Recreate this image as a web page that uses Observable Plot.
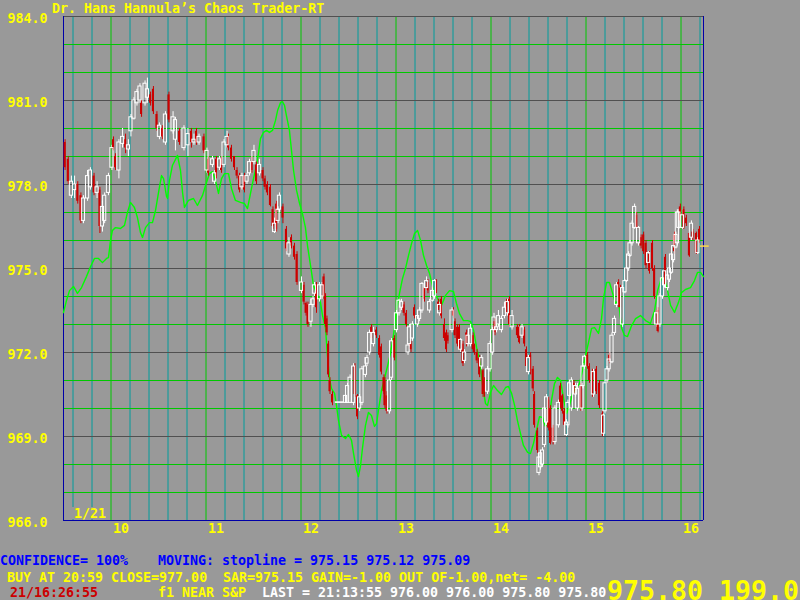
<!DOCTYPE html>
<html>
<head>
<meta charset="utf-8">
<script src="https://cdn.jsdelivr.net/npm/d3@7"></script>
<script src="https://cdn.jsdelivr.net/npm/@observablehq/plot@0.6"></script>
<style>
html,body{margin:0;padding:0;}
body{width:800px;height:600px;background:#999999;position:relative;overflow:hidden;}
#chart{position:absolute;left:0;top:0;}
#overlay{position:absolute;left:0;top:0;}
#overlay text{font-family:"DejaVu Sans Mono",monospace;font-weight:bold;font-size:13.3px;}
</style>
</head>
<body>
<div id="chart"></div>
<svg id="overlay" width="800" height="600">
  <text x="52" y="13" fill="#ffff00">Dr. Hans Hannula’s Chaos Trader-RT</text>
  <rect x="72" y="507" width="34" height="12" fill="#999999"></rect>
  <text x="74" y="518" fill="#ffff00">1/21</text>
  <text x="0" y="565" fill="#0000ff">CONFIDENCE= 100%</text>
  <text x="158" y="565" fill="#0000ff">MOVING: stopline = 975.15 975.12 975.09</text>
  <text x="7" y="582" fill="#ffff00">BUY AT 20:59 CLOSE=977.00</text>
  <text x="223" y="582" fill="#ffff00">SAR=975.15 GAIN=-1.00 OUT OF-1.00,net= -4.00</text>
  <text x="10" y="597" fill="#cc0000">21/16:26:55</text>
  <text x="158" y="597" fill="#ffff00">f1 NEAR S&amp;P</text>
  <text x="262" y="597" fill="#ffffff">LAST = 21:13:55 976.00 976.00 975.80 975.80</text>
  <text x="607" y="600" fill="#ffff00" style="font-size:26.6px">975.80 199.0</text>
</svg>
<script>
// candles: [minutes since 9:30, open, high, low, close]
const candles = [
[1,979.5,979.6,978.5,978.6],[3,978.9,979.0,978.0,978.1],[5,977.6,978.3,977.5,978.1],[7,977.8,978.3,977.5,978.0],
[9,978.0,978.1,977.3,977.4],[11,977.6,977.7,976.6,976.7],[12.6,976.7,977.6,976.6,977.5],[15.2,977.5,978.5,977.4,978.3],
[17,977.9,978.6,977.8,978.5],[19.3,978.3,978.4,977.6,977.7],[21.2,977.7,978.1,977.5,977.9],[23,977.8,977.9,976.25,976.5],
[24.6,976.5,977.4,976.3,977.2],[26,976.7,977.7,976.6,977.6],[28.4,977.7,978.4,977.6,978.3],[30.6,978.6,979.4,978.5,979.3],
[31.6,979.6,979.7,979.2,979.25],[32.8,979.0,979.1,978.5,978.6],[35,978.5,979.6,978.2,979.5],[37.3,979.45,980.0,979.3,979.7],
[39.2,979.6,979.8,979.1,979.3],[41,979.25,979.6,979.0,979.4],[42.6,979.9,980.5,979.7,980.4],[44.5,980.35,981.1,980.3,981.0],
[46.4,980.9,981.4,980.8,981.3],[48.3,981.0,981.6,980.9,981.5],[49.3,980.9,981.0,980.4,980.5],[51.5,980.9,981.7,980.8,981.6],
[53,981.1,981.8,980.9,981.4],[55,981.2,981.3,980.8,980.9],[56.8,981.4,981.5,980.5,980.6],[59,980.5,980.6,979.9,980.0],
[60.6,979.7,980.2,979.6,980.1],[62.5,980.0,980.1,979.6,979.7],[64.4,979.5,980.6,979.4,980.5],[66.6,981.2,981.3,980.2,980.3],
[69.2,979.9,980.6,979.8,980.4],[70.7,979.6,980.4,979.2,980.3],[73.3,979.9,980.0,979.4,979.5],[76.1,979.3,980.1,979.2,980.0],
[78.6,979.4,980.0,979.0,979.8],[80.8,979.9,980.0,979.3,979.5],[82.4,979.5,979.8,979.4,979.6],[84,979.9,980.0,979.4,979.5],
[85.6,979.5,979.8,979.4,979.7],[88.7,979.7,979.8,979.1,979.2],[90.6,978.5,979.3,978.4,979.2],[91.6,978.9,979.0,978.3,978.4],
[94.1,978.7,979.0,978.6,978.9],[95.4,978.1,978.5,978.0,978.4],[96.6,978.9,979.0,978.2,978.3],[98.5,978.6,979.0,978.5,978.9],
[99.8,978.9,979.0,978.4,978.5],[101.4,978.7,979.6,978.6,979.5],[103.3,979.4,979.9,979.3,979.7],[104.2,979.7,979.8,979.2,979.3],
[106.1,979.3,979.4,978.8,978.9],[108,979.0,979.0,978.5,978.6],[109.6,978.5,978.6,978.2,978.3],[111.2,978.3,978.4,977.7,977.8],
[112.7,977.9,978.4,977.8,978.3],[114.3,978.3,978.4,977.7,977.8],[115.9,978.1,978.4,978.0,978.3],[117.5,978.4,978.9,978.3,978.8],
[119,978.8,979.0,978.4,978.5],[120.3,978.8,979.4,978.7,979.2],[121.9,978.7,978.8,978.0,978.1],[123.8,978.4,978.9,978.3,978.7],
[126,978.5,978.6,978.1,978.2],[127.3,978.2,978.3,977.8,977.9],[128.8,978.0,978.1,977.6,977.7],[130.7,977.9,978.0,977.2,977.25],
[132.3,977.1,977.2,976.4,976.5],[133.3,976.3,976.8,976.25,976.6],[134.6,977.3,977.4,976.3,976.4],[135.5,976.7,977.2,976.6,977.1],
[136.4,977.1,977.7,977.0,977.6],[138.6,977.2,977.3,976.6,976.8],[140.8,976.4,976.5,975.6,975.7],[142.4,975.5,976.1,975.4,975.9],
[144,976.1,976.2,975.7,975.8],[145.9,975.8,975.9,975.3,975.4],[147.5,975.5,975.6,974.4,974.5],[150.3,974.2,974.7,974.1,974.5],
[151.9,974.4,974.5,973.7,973.8],[153.2,973.75,973.8,973.3,973.4],[154.4,973.7,973.8,972.9,973.0],[156.3,973.1,973.9,972.9,973.7],
[157.6,973.7,974.0,973.6,973.9],[158.5,974.1,974.5,974.0,974.4],[159.8,974.4,974.5,973.4,973.6],[161.7,973.9,974.5,973.8,974.4],
[163.3,974.0,974.5,973.9,974.4],[164.5,974.7,974.8,973.9,974.0],[165.5,974.0,974.1,972.9,973.0],[166.4,973.2,973.3,972.6,972.7],
[167.4,972.3,972.4,971.1,971.2],[168.3,971.0,971.1,970.5,970.6],[169.9,970.5,970.6,970.1,970.2],[173,970.2,970.22,970.2,970.22],
[175.6,970.2,970.22,970.2,970.22],[178.1,970.2,970.5,970.2,970.45],[179.4,970.2,970.9,970.2,970.8],[181,970.2,971.2,970.2,971.1],
[183.2,970.2,971.6,970.1,971.5],[184.1,971.5,971.6,970.4,970.5],[185.7,970.45,970.5,969.6,969.7],[187,970.0,970.5,969.9,970.4],
[188.5,970.2,971.5,970.1,971.4],[190.7,971.2,971.8,971.1,971.5],[191.7,971.6,971.9,971.5,971.8],[193.3,972.0,972.8,971.9,972.7],
[194.6,972.9,973.0,972.4,972.5],[195.8,972.3,972.9,972.2,972.7],[197.7,972.8,972.9,972.5,972.6],[199.6,972.5,972.6,971.8,971.9],
[200.8,972.2,972.3,971.2,971.3],[202.4,971.1,971.2,970.5,970.6],[203,971.0,971.1,970.0,970.1],[204.3,970.45,970.6,969.8,969.9],
[205.9,969.9,971.1,969.8,971.0],[207.2,971.1,972.5,971.0,972.4],[209.1,972.5,972.6,971.7,971.8],[210.3,972.8,973.5,972.7,973.4],
[211.9,973.4,973.9,973.3,973.85],[213.5,973.6,973.9,973.5,973.8],[215.1,973.7,973.8,973.3,973.4],[216.6,973.4,973.5,972.9,973.0],
[217.6,972.0,972.3,971.9,972.25],[218.5,972.3,973.0,972.2,972.9],[219.5,972.3,972.4,972.0,972.1],[220.4,972.5,973.1,972.4,973.0],
[221.7,973.6,973.7,973.2,973.3],[223.6,973.0,973.4,972.9,973.3],[224.9,973.2,973.6,973.1,973.5],[226.4,973.5,974.5,973.4,974.45],
[228,974.3,974.4,973.8,973.9],[229.3,974.3,974.7,974.2,974.55],[230.2,974.5,974.6,974.1,974.2],[231.2,973.5,973.9,973.4,973.8],
[233.1,973.85,974.3,973.8,974.2],[234.3,974.0,974.6,973.9,974.55],[235.6,974.55,974.6,974.1,974.2],[236.9,973.8,973.9,973.5,973.6],
[237.5,973.4,973.8,973.3,973.7],[238.7,973.9,974.0,973.2,973.3],[240.6,973.0,973.2,972.4,972.5],[241.9,972.7,972.8,972.0,972.1],
[242.8,972.6,972.7,972.3,972.4],[245.4,972.8,973.6,972.7,973.5],[246.3,973.5,973.6,973.2,973.3],[247.3,973.1,973.2,972.5,972.6],
[248.9,972.9,973.0,972.2,972.3],[250.1,972.9,973.0,972.1,972.2],[250.8,972.1,972.5,972.0,972.45],[252.3,972.3,972.4,971.5,971.6],
[253.3,971.7,972.1,971.6,972.0],[254.6,972.7,972.8,972.2,972.3],[255.5,972.3,972.7,972.2,972.6],[257.1,972.3,973.0,972.2,972.85],
[258.7,972.6,972.7,972.0,972.1],[259.6,972.25,972.3,971.9,972.0],[261.2,972.0,972.1,971.6,971.7],[262.8,971.8,971.9,971.1,971.2],
[264.1,971.5,971.9,971.4,971.8],[265,971.35,971.4,970.4,970.5],[265.9,971.0,971.1,970.4,970.6],[267.8,970.6,971.5,970.5,971.4],
[269.4,971.4,972.4,971.3,972.3],[271,972.0,972.9,971.9,972.8],[271.9,972.8,973.4,972.7,973.25],[272.5,973.1,973.2,972.6,972.7],
[273.5,972.8,973.0,972.7,972.9],[274.7,973.0,973.5,972.9,973.3],[276.6,972.8,973.3,972.7,973.2],[278.5,973.3,973.8,973.2,973.6],
[279.8,973.8,973.9,973.4,973.45],[280.4,973.4,973.9,973.3,973.8],[281.7,973.9,974.0,972.9,973.0],[283.3,972.9,973.5,972.8,973.3],
[286.7,972.9,973.0,972.5,972.6],[288,972.9,973.0,972.3,972.35],[289.6,972.6,973.0,972.5,972.9],[291.2,972.8,972.9,972.2,972.3],
[292.4,972.1,972.2,971.4,971.5],[293.7,971.3,971.9,971.2,971.8],[295,971.9,972.0,971.2,971.3],[296.6,971.4,971.5,970.6,970.7],
[297.5,970.5,970.6,969.3,969.4],[299.4,969.2,969.3,968.4,968.5],[300.3,967.7,968.4,967.6,968.25],[301.3,967.9,968.5,967.8,968.4],
[302.5,968.0,968.6,967.9,968.5],[303.8,968.7,970.1,968.6,970.0],[305.1,969.5,970.5,969.4,970.4],[306.4,970.3,970.4,969.2,969.3],
[307.6,970.0,970.1,968.7,968.75],[309.2,969.3,969.4,968.7,968.8],[310.4,968.8,970.1,968.7,970.0],[312.6,969.4,970.3,969.3,970.2],
[313.9,970.8,970.9,970.0,970.1],[315.2,970.45,970.5,969.8,969.9],[316.4,969.9,970.0,969.3,969.4],[317.7,969.05,969.6,969.0,969.5],
[318.6,969.4,970.3,969.3,970.2],[319.6,970.45,970.95,970.4,970.9],[320.8,970.0,971.1,969.9,971.0],[322.4,970.9,971.0,970.5,970.6],
[323.4,970.5,970.9,970.4,970.8],[324.6,970.0,970.9,969.9,970.7],[326.8,970.8,970.9,969.9,970.0],[327.5,970.0,970.9,969.9,970.8],
[328.1,970.8,971.6,970.7,971.5],[329.1,971.5,971.9,971.4,971.85],[331,971.9,972.0,971.4,971.5],[332.2,971.5,971.6,970.9,971.0],
[334.1,971.3,971.4,970.4,970.5],[334.7,970.5,971.4,970.4,971.3],[336.6,971.4,971.5,970.5,970.6],[338.5,970.9,971.0,970.0,970.1],
[340.4,969.8,969.9,969.0,969.1],[341.1,969.1,969.8,969.0,969.75],[342,969.9,971.0,969.8,970.9],[343.3,971.0,971.5,970.9,971.4],
[344.6,971.4,971.8,971.3,971.75],[344.9,971.9,972.0,971.6,971.7],[346.4,971.65,972.7,971.6,972.6],[348,972.7,973.3,972.6,973.2],
[349.3,973.7,974.5,973.6,974.4],[350.6,974.5,974.6,973.6,973.7],[351.8,974.3,974.4,973.5,973.6],[353.1,973.0,974.4,972.9,974.3],
[354.6,974.15,974.6,974.1,974.55],[355.6,974.55,975.1,974.5,975.0],[356.9,975.0,975.6,974.9,975.5],[357.8,975.45,976.0,975.4,975.9],
[359.1,975.9,976.7,975.8,976.6],[360.7,976.45,977.3,976.4,977.2],[362,976.9,977.0,976.4,976.45],[363.2,975.9,976.5,975.8,976.45],
[364.8,976.1,976.2,975.7,975.8],[366.4,976.2,976.3,975.5,975.6],[367.9,975.9,976.0,975.0,975.1],[369.5,975.2,975.6,975.1,975.55],
[370.1,975.5,975.6,974.8,974.9],[372,975.9,976.0,974.9,975.0],[373.3,975.0,975.1,973.9,974.0],[374.6,973.0,973.5,972.9,973.4],
[375.5,973.5,973.6,972.7,972.75],[376.7,973.0,974.1,972.9,974.0],[378.3,974.0,974.8,973.9,974.65],[379.6,974.4,975.0,974.3,974.9],
[380.2,975.4,975.5,974.3,974.4],[381.5,974.3,974.9,974.2,974.75],[382.7,974.6,975.1,974.5,975.0],[384,974.85,975.6,974.8,975.5],
[385.3,975.3,976.0,975.2,975.8],[385.9,976.2,976.3,975.5,975.6],[386.8,975.75,976.3,975.7,976.2],[387.7,975.9,977.1,975.8,977.0],
[388.6,976.45,977.1,976.4,977.0],[389.6,977.2,977.3,976.6,976.7],[390.9,976.45,977.1,976.4,976.9],[391.8,977.1,977.2,976.4,976.45],
[393.4,976.8,976.9,976.5,976.6],[395.3,976.25,976.3,975.4,975.45],[396.6,976.1,976.7,976.0,976.6],[397.5,976.3,976.4,976.0,976.1],
[399.7,976.25,976.3,975.5,975.55],[400.6,975.55,976.1,975.5,976.0],[401.7,976.4,976.5,975.9,976.0]
];
// green indicator line: [minutes since 9:30, value]
const indicator = [
[0,973.43],[1.9,973.86],[3.8,974.21],[6.3,974.36],[8.8,974.11],[11.4,974.32],[14.5,974.71],[17.1,975.07],[19.6,975.36],[22.1,975.36],
[24.6,975.21],[27.2,975.36],[28.4,975.39],[29.7,976.0],[30.9,976.36],[32.8,976.46],[36,976.43],[38.5,976.54],[40.4,977.0],[42.3,977.36],
[44.8,977.18],[46.7,976.82],[48.6,976.29],[49.9,976.11],[51.8,976.46],[54.3,976.64],[56.2,976.64],[58.1,977.07],[60,977.71],[61.9,978.32],
[63.2,978.21],[65.1,977.57],[65.7,977.5],[66.9,978.14],[68.8,978.68],[72,979.04],[73.9,978.5],[75.2,977.71],[76.4,977.18],[78.9,977.43],
[82.1,977.5],[84.6,977.25],[87.8,977.61],[90.3,978.07],[92.2,978.39],[94.1,978.46],[96,978.14],[97.9,977.68],[99.8,978.21],[101.7,978.39],
[104.2,978.39],[106.1,977.86],[108.6,977.43],[111.8,977.36],[114.3,977.32],[116.2,977.14],[118.1,977.68],[120,978.21],[121.9,978.68],[123.2,979.14],
[124.4,979.64],[126.3,979.86],[128.2,979.93],[130.1,979.86],[132,979.93],[133.9,980.29],[135.2,980.64],[137.1,980.93],[138.3,980.96],[139.6,980.82],
[140.8,980.46],[142.7,979.93],[144,979.21],[145.3,978.5],[147.2,977.79],[149.1,977.32],[150.9,976.96],[152.8,976.46],[154.1,975.82],[156,975.11],
[157.9,974.39],[160.4,974.04],[162.3,973.79],[163.6,973.32],[165.5,972.86],[166.7,971.89],[168,971.07],[169.3,970.71],[171.2,970.54],[172.4,970.11],
[173.7,969.57],[175.6,969.04],[178.1,968.93],[180,969.07],[181.9,968.86],[183.2,968.39],[185.1,967.79],[186.3,967.57],[187.6,967.96],[188.8,968.57],
[190.7,969.39],[192.6,969.86],[194.5,969.75],[196.4,969.36],[197.7,969.46],[198.9,969.93],[200.8,970.64],[202.7,971.07],[204.6,971.5],[206.5,971.96],
[208.4,972.61],[210.3,973.5],[212.2,974.11],[214.1,974.64],[216,975.0],[217.9,975.46],[219.8,975.89],[221.7,976.25],[223.6,976.36],[225.5,976.0],
[227.4,975.46],[229.3,975.11],[231.2,974.82],[233.7,974.21],[236.2,973.93],[238.7,973.68],[241.3,974.04],[243.8,974.21],[246.3,974.18],[248.2,973.75],
[250.1,973.39],[252.6,973.14],[255.2,973.14],[257.1,973.11],[259,972.79],[260.9,972.18],[262.8,971.71],[264.7,970.82],[266.5,970.18],[267.8,970.11],
[269.7,970.57],[271.6,970.82],[274.1,970.64],[276.6,970.5],[279.2,970.75],[281,970.79],[283,970.54],[284.9,970.11],[286.7,969.57],[288.6,969.11],
[290.5,968.68],[293.1,968.43],[294.9,968.39],[296.8,968.75],[298.7,969.21],[300.6,969.71],[302.5,969.68],[304.4,969.36],[306.4,969.57],[308.2,970.29],
[310.1,970.89],[312,971.11],[313.9,971.0],[315.8,970.36],[317.7,969.82],[319.6,970.11],[321.5,970.54],[324,970.75],[325.9,970.89],[327.8,971.36],
[329.7,971.89],[331.6,972.36],[333.5,972.86],[335.4,972.89],[337.9,972.68],[339.8,973.21],[341.1,973.96],[343,974.5],[344.8,974.5],[346.7,974.14],
[348.6,973.75],[350.5,973.86],[352.4,972.89],[354.3,972.61],[356.2,972.57],[358.8,972.96],[361.3,973.21],[364.4,973.32],[367.6,973.14],[370.7,973.04],
[373.3,973.5],[375.2,974.21],[377.7,974.68],[379.6,974.64],[381.5,974.21],[383.4,973.68],[385.9,973.43],[388.4,973.79],[390.3,974.14],[392.8,974.25],
[396,974.32],[398.5,974.57],[400.4,974.86],[402.3,974.86],[404.2,974.71]
];
const yLabelTicks = [966, 969, 972, 975, 978, 981, 984];
const yMinorGrid = [967, 968, 970, 971, 973, 974, 976, 977, 979, 980, 982, 983];
const xHourTicks = [30, 90, 150, 210, 270, 330, 390];
const xHourLabels = ["10", "11", "12", "13", "14", "15", "16"];
const x12MinGrid = [6, 18, 42, 54, 66, 78, 102, 114, 126, 138, 162, 174, 186, 198, 222, 234, 246, 258, 282, 294, 306, 318, 342, 354, 366, 378, 402];
const xDomain = [0, 404.2];
const yDomain = [966, 984];
const lastPrice = 975.80;

const bars = candles.map(([t, o, h, l, c]) => ({t, o, h, l, c, up: c >= o}));
const ups = bars.filter(d => d.up);
const downs = bars.filter(d => !d.up);
const line = indicator.map(([t, v]) => ({t, v}));

const RED = "#cc0000", WHITE = "#ffffff";

const chart = Plot.plot({
  width: 800,
  height: 540,
  marginLeft: 63,
  marginRight: 97,
  marginTop: 16,
  marginBottom: 20,
  style: {background: "transparent", fontFamily: '"DejaVu Sans Mono", monospace', fontWeight: "bold", fontSize: "13.3px", color: "#ffff00", overflow: "visible"},
  x: {domain: xDomain, axis: null},
  y: {domain: yDomain, axis: null},
  marks: [
    Plot.ruleX(x12MinGrid, {stroke: "#009c9c", strokeWidth: 1}),
    Plot.ruleX(xHourTicks, {stroke: "#00c800", strokeWidth: 1}),
    Plot.ruleY(yMinorGrid, {stroke: "#00c800", strokeWidth: 1}),
    Plot.ruleY(yLabelTicks, {stroke: "#505050", strokeWidth: 1}),
    Plot.ruleY([yDomain[0]], {stroke: "#0000a8", strokeWidth: 1}),
    Plot.ruleX([xDomain[0], xDomain[1]], {stroke: "#0000a8", strokeWidth: 1}),
    Plot.axisY(yLabelTicks, {tickFormat: d => d.toFixed(1), tickSize: 0, tickPadding: 16, dy: 2, color: "#ffff00", fill: "#ffff00", label: null}),
    Plot.axisX(xHourTicks, {tickFormat: d => xHourLabels[xHourTicks.indexOf(d)], tickSize: 0, tickPadding: 3, textAnchor: "start", dx: 2, color: "#ffff00", fill: "#ffff00", label: null}),
    // green indicator
    Plot.line(line, {x: "t", y: "v", stroke: "#00ff00", strokeWidth: 1.4}),
    // wicks
    Plot.ruleX(downs, {x: "t", y1: "h", y2: "l", stroke: RED, strokeWidth: 1}),
    Plot.ruleX(ups, {x: "t", y1: "h", y2: "c", stroke: WHITE, strokeWidth: 1}),
    Plot.ruleX(ups, {x: "t", y1: "o", y2: "l", stroke: WHITE, strokeWidth: 1}),
    // bodies
    Plot.rect(downs, {x1: d => d.t - 0.65, x2: d => d.t + 0.65, y1: "o", y2: "c", fill: RED}),
    Plot.rect(ups, {x1: d => d.t - 1.0, x2: d => d.t + 1.0, y1: "o", y2: "c", fill: "none", stroke: WHITE, strokeWidth: 1}),
    // last price marker
    Plot.ruleY([lastPrice], {x1: xDomain[1] - 2, x2: xDomain[1] + 3.6, stroke: "#ffd84a", strokeWidth: 1.5})
  ]
});
document.getElementById("chart").appendChild(chart);
</script>
</body>
</html>
